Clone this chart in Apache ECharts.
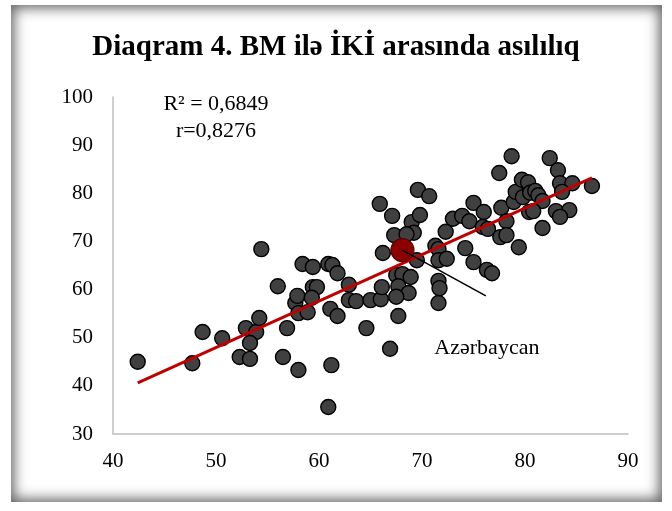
<!DOCTYPE html>
<html>
<head>
<meta charset="utf-8">
<script src="https://cdn.jsdelivr.net/npm/echarts@6/dist/echarts.min.js"></script>
<style>
  html, body { margin: 0; padding: 0; background: #fff; }
  #frame {
    position: absolute; left: 11px; top: 5px; width: 651px; height: 497px;
    box-shadow: inset 0 0 13px 3px rgba(0, 0, 0, 0.62);
    background: #fff;
  }
  #chart { position: absolute; left: 0; top: 0; width: 672px; height: 511px; }
</style>
</head>
<body>
<div id="frame"></div>
<div id="chart"></div>
<script>
// BM (x) vs İKİ (y), one point per country
const bmValues = [
  42.4, 47.7, 48.7, 50.6, 52.9, 53.9, 53.3, 52.3, 53.3, 54.2,
  54.4, 56.0, 56.5, 56.9, 57.7, 57.9, 58.0, 58.0, 58.4, 59.4,
  59.4, 59.8, 59.3, 58.9, 60.9, 61.3, 61.8, 61.1, 61.8, 61.2,
  60.9, 62.9, 62.9, 63.6, 64.6, 65.0, 66.0, 66.1, 66.2, 65.9,
  67.1, 69.0, 69.2, 67.3, 68.5, 69.6, 70.7, 69.8, 69.5, 67.5,
  68.1, 68.9, 67.7, 68.7, 67.5, 67.7, 66.9, 71.6, 71.6, 71.7,
  71.3, 71.6, 71.6, 72.4, 72.3, 73.0, 73.9, 74.6, 74.2, 75.0,
  76.0, 75.0, 76.3, 76.8, 75.9, 76.4, 77.5, 77.7, 78.2, 77.6,
  78.2, 78.7, 79.4, 78.9, 79.1, 79.7, 80.3, 79.8, 80.5, 81.0,
  81.3, 81.7, 80.4, 80.8, 81.7, 82.4, 83.2, 83.4, 84.6, 86.5,
  83.6, 83.0, 84.3, 83.4
];
const ikiValues = [
  45.0, 44.7, 51.2, 49.9, 52.0, 51.2, 48.9, 46.0, 45.6, 54.1,
  68.4, 60.7, 46.0, 52.0, 57.2, 58.7, 55.1, 43.3, 65.3, 64.7,
  60.5, 60.5, 58.3, 55.3, 65.3, 65.1, 63.4, 56.0, 54.5, 44.3,
  35.6, 61.0, 57.8, 57.6, 52.0, 57.8, 58.0, 60.5, 67.6, 77.8,
  75.3, 74.0, 71.8, 71.3, 71.5, 80.7, 79.4, 75.5, 66.1, 63.0,
  63.2, 62.6, 60.7, 59.3, 58.5, 54.5, 47.7, 57.2, 61.8, 60.3,
  69.1, 68.4, 66.1, 66.4, 72.0, 74.7, 75.3, 74.2, 68.6, 78.0,
  76.1, 65.7, 64.1, 63.4, 73.0, 72.6, 84.2, 77.0, 74.2, 70.9,
  71.3, 87.7, 68.8, 78.2, 80.3, 82.8, 82.3, 79.2, 80.1, 80.5,
  79.6, 78.4, 76.1, 76.3, 72.8, 87.3, 84.8, 82.1, 82.1, 81.5,
  80.3, 76.3, 76.5, 75.1
];
// highlighted country
const azName = 'Azərbaycan';
const azPoint = [68.1, 68.2];
const azLeaderEnd = [76.2, 58.7];
const azLabelAt = [76.3, 47.9];
// linear trend line ends
const trendX = [42.4, 86.5];
const trendY = [40.6, 83.2];
const statsText = ['R² = 0,6849', 'r=0,8276'];
const xTicks = [40, 90, 10];
const yTicks = [30, 100, 10];

const serif = '"Liberation Serif", "Times New Roman", serif';
const chart = echarts.init(document.getElementById('chart'));

const points = bmValues.map((x, i) => [x, ikiValues[i]]);

const option = {
  backgroundColor: 'transparent',
  animation: false,
  title: {
    text: 'Diaqram 4. BM ilə İKİ arasında asılılıq',
    left: 'center',
    top: 28,
    textStyle: { fontFamily: serif, fontSize: 29, fontWeight: 'bold', color: '#000' }
  },
  graphic: statsText.map((t, i) => ({
    type: 'text',
    x: 216,
    y: 104 + i * 27,
    style: {
      text: t,
      font: '22px ' + serif,
      fill: '#000',
      align: 'center',
      verticalAlign: 'middle'
    }
  })),
  grid: { left: 113, right: 44, top: 97, bottom: 77 },
  xAxis: {
    type: 'value',
    min: xTicks[0], max: xTicks[1], interval: xTicks[2],
    axisLine: { show: true, lineStyle: { color: '#bfbfbf', width: 1.5 } },
    axisTick: { show: false },
    splitLine: { show: false },
    axisLabel: { margin: 17, color: '#000', fontFamily: serif, fontSize: 21 }
  },
  yAxis: {
    type: 'value',
    min: yTicks[0], max: yTicks[1], interval: yTicks[2],
    axisLine: { show: true, lineStyle: { color: '#bfbfbf', width: 1.5 } },
    axisTick: { show: false },
    splitLine: { show: false },
    axisLabel: { margin: 20, color: '#000', fontFamily: serif, fontSize: 21 }
  },
  series: [
    {
      name: 'ölkələr',
      type: 'scatter',
      symbolSize: 15,
      itemStyle: { color: '#404040', borderColor: '#000', borderWidth: 1.4, opacity: 1 },
      data: points,
      z: 2
    },
    {
      name: 'trend',
      type: 'line',
      showSymbol: false,
      lineStyle: { color: '#c00000', width: 3 },
      data: trendX.map((x, i) => [x, trendY[i]]),
      z: 3
    },
    {
      name: azName,
      type: 'scatter',
      symbolSize: 23,
      itemStyle: { color: '#8b0000', borderColor: '#5c0000', borderWidth: 1.2, opacity: 1 },
      data: [azPoint],
      z: 4,
      markLine: {
        silent: true,
        symbol: ['none', 'none'],
        lineStyle: { color: '#000', width: 1.5, type: 'solid' },
        label: { show: false },
        data: [[{ coord: azPoint }, { coord: azLeaderEnd }]]
      },
      markPoint: {
        symbolSize: 0,
        label: {
          show: true,
          formatter: azName,
          color: '#000',
          fontFamily: serif,
          fontSize: 22
        },
        data: [{ coord: azLabelAt }]
      }
    }
  ]
};

chart.setOption(option);
</script>
</body>
</html>
